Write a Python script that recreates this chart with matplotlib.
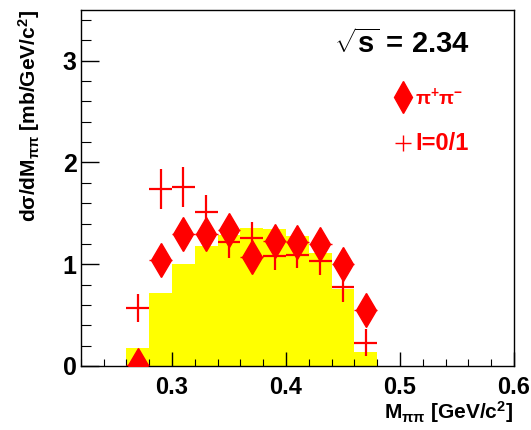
import matplotlib
matplotlib.use("Agg")
import matplotlib.pyplot as plt
from matplotlib import font_manager
from matplotlib.ticker import MultipleLocator

# ---- Data ----
bin_edges = [0.26, 0.28, 0.30, 0.32, 0.34, 0.36, 0.38, 0.40, 0.42, 0.44, 0.46, 0.48]
phase_space = [0.18, 0.72, 1.00, 1.18, 1.29, 1.36, 1.35, 1.28, 1.11, 0.76, 0.14]

m_pipi = [0.27, 0.29, 0.31, 0.33, 0.35, 0.37, 0.39, 0.41, 0.43, 0.45, 0.47]
xerr = [0.01] * len(m_pipi)
xs_charged = [0.01, 1.04, 1.30, 1.30, 1.34, 1.07, 1.23, 1.22, 1.20, 1.00, 0.55]
xs_iso = [0.57, 1.74, 1.76, 1.51, 1.22, 1.26, 1.08, 1.09, 1.03, 0.78, 0.23]
xs_iso_err = [0.135, 0.20, 0.20, 0.17, 0.16, 0.15, 0.14, 0.13, 0.14, 0.15, 0.13]

# ---- Fonts ----
installed = {f.name for f in font_manager.fontManager.ttflist}
FONT = "Liberation Sans Narrow" if "Liberation Sans Narrow" in installed else "Liberation Sans"
plt.rcParams["font.family"] = [FONT, "DejaVu Sans"]
plt.rcParams["font.weight"] = "bold"
plt.rcParams["mathtext.fontset"] = "custom"
plt.rcParams["mathtext.rm"] = f"{FONT}:bold"
plt.rcParams["mathtext.bf"] = f"{FONT}:bold"
plt.rcParams["mathtext.it"] = "Liberation Serif:bold"
plt.rcParams["mathtext.default"] = "rm"

RED = "#ff0000"

fig = plt.figure(figsize=(5.31, 4.30), dpi=100)
ax = fig.add_axes([0.152, 0.149, 0.816, 0.828])

# phase-space histogram
ax.stairs(phase_space, bin_edges, fill=True, color="#ffff00", zorder=1)

# I=0/1 crosses
ax.errorbar(m_pipi, xs_iso, xerr=xerr, yerr=xs_iso_err, fmt="none",
            ecolor=RED, elinewidth=1.6, capsize=0, zorder=3)

# pi+pi- diamonds with horizontal bin widths
_, _, bars = ax.errorbar(m_pipi, xs_charged, xerr=xerr, fmt="d", color=RED,
                         markersize=17, elinewidth=1.0, capsize=0, zorder=4)
for b in bars:
    b.set_linestyle((0, (2, 3)))

ax.set_xlim(0.22, 0.6)
ax.set_ylim(0, 3.5)
ax.xaxis.set_major_locator(MultipleLocator(0.1))
ax.xaxis.set_minor_locator(MultipleLocator(0.02))
ax.yaxis.set_major_locator(MultipleLocator(1))
ax.yaxis.set_minor_locator(MultipleLocator(0.2))
ax.tick_params(axis="both", which="both", direction="in", colors="black")
ax.tick_params(axis="x", which="major", length=10, width=1, pad=7, labelsize=17)
ax.tick_params(axis="x", which="minor", length=5, width=0.8)
ax.tick_params(axis="y", which="major", length=13, width=1, pad=3, labelsize=18)
ax.tick_params(axis="y", which="minor", length=7, width=0.8)
ax.set_xticks([0.3, 0.4, 0.5, 0.6])
ax.set_xticklabels(["0.3", "0.4", "0.5", "0.6"])
ax.set_yticks([0, 1, 2, 3])
ax.set_yticklabels(["0", "1", "2", "3"])
for s in ax.spines.values():
    s.set_linewidth(1.0)

# energy label and legend
ax.text(0.584, 0.905, r"$\sqrt{s}$ = 2.34", transform=ax.transAxes,
        fontsize=21, fontweight="bold", ha="left", va="center")
ax.plot([0.743], [0.756], "d", color=RED, markersize=16, transform=ax.transAxes, clip_on=False)
ax.text(0.772, 0.756, r"$\pi^{+}\pi^{-}$", transform=ax.transAxes,
        fontsize=14, color=RED, ha="left", va="center")
ax.plot([0.743], [0.626], "+", color=RED, markersize=12, markeredgewidth=1.0,
        transform=ax.transAxes, clip_on=False)
ax.text(0.772, 0.626, "I=0/1", transform=ax.transAxes,
        fontsize=17, color=RED, ha="left", va="center")

# axis titles
fig.text(0.055, 0.977, r"d$\sigma$/dM$_{\pi\pi}$ [mb/GeV/c$^{2}$]", rotation=90,
         fontsize=15, ha="center", va="top")
fig.text(0.966, 0.042, r"M$_{\pi\pi}$ [GeV/c$^{2}$]", fontsize=15,
         ha="right", va="center")

fig.savefig("out.png", dpi=100)
